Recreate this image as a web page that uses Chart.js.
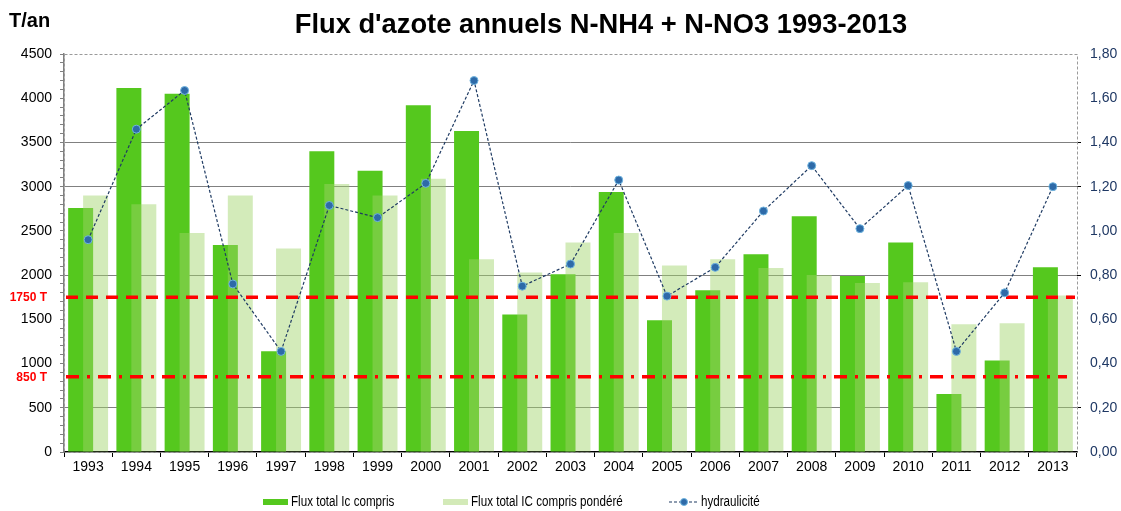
<!DOCTYPE html>
<html>
<head>
<meta charset="utf-8">
<title>Flux d'azote annuels</title>
<script src="https://cdn.jsdelivr.net/npm/chart.js@4.4.1/dist/chart.umd.min.js"></script>
<style>
  html, body { margin: 0; padding: 0; background: #fff; }
  #wrap { position: relative; width: 1121px; height: 511px; }
</style>
</head>
<body>
<div id="wrap"><canvas id="fluxChart"></canvas></div>
<script>
// Flux annuels (T/an) et hydraulicité, 1993-2013
const years = ['1993', '1994', '1995', '1996', '1997', '1998', '1999', '2000', '2001', '2002', '2003',
               '2004', '2005', '2006', '2007', '2008', '2009', '2010', '2011', '2012', '2013'];
const fluxTotal = [2760, 4115, 4050, 2340, 1140, 3400, 3180, 3920, 3630, 1555, 2010,
                   2940, 1490, 1830, 2235, 2665, 1990, 2370, 655, 1035, 2090];
const fluxPondere = [2900, 2800, 2475, 2900, 2300, 3030, 2900, 3090, 2180, 2030, 2370,
                     2475, 2110, 2180, 2080, 2000, 1910, 1920, 1445, 1455, 1770];
const hydraulicite = [0.96, 1.46, 1.635, 0.76, 0.455, 1.115, 1.06, 1.215, 1.68, 0.75, 0.85,
                      1.23, 0.705, 0.835, 1.09, 1.295, 1.01, 1.205, 0.455, 0.72, 1.20];
const seuils = [1750, 850];
const seuilLabels = ['1750 T', '850 T'];
const majorGrid = [500, 2000, 3000, 3500];

const GREEN = '#55c81e';
const GREEN_LIGHT = 'rgba(160, 212, 104, 0.46)';
const LINE_BLUE = '#1f3b63';

// light bars sit on top of the dark ones, thresholds on top of both, curve above all
const layering = {
  id: 'layering',
  beforeDatasetsDraw(chart) {
    const {ctx, chartArea: a} = chart;
    ctx.save();
    ctx.strokeStyle = '#9a9a9a';
    ctx.lineWidth = 1;
    ctx.setLineDash([3, 2]);
    ctx.strokeRect(a.left + 0.5, a.top + 0.5, a.right - a.left, a.bottom - a.top);
    ctx.restore();
  },
  beforeDatasetDraw(chart, args) {
    if (args.index === 1) return false;
  },
  afterDatasetDraw(chart, args) {
    if (args.index !== 0) return;
    const {ctx, chartArea: a, scales} = chart;
    chart.getDatasetMeta(1).controller.draw();

    ctx.save();
    ctx.strokeStyle = '#ff0000';
    ctx.lineWidth = 3.5;
    seuils.forEach((s, i) => {
      const y = scales.y.getPixelForValue(s);
      ctx.setLineDash(i === 0 ? [12, 8] : [13, 8, 3, 8]);
      ctx.beginPath();
      ctx.moveTo(a.left + 2, y);
      ctx.lineTo(i === 0 ? a.right - 2 : a.right - 10, y);
      ctx.stroke();
    });
    ctx.restore();
  },
  afterDraw(chart) {
    const {ctx, scales} = chart;
    ctx.save();
    ctx.fillStyle = '#000';
    ctx.textBaseline = 'alphabetic';
    ctx.font = 'bold 27.3px "Liberation Sans", Arial, sans-serif';
    ctx.textAlign = 'center';
    ctx.fillText("Flux d'azote annuels N-NH4 + N-NO3 1993-2013", 601, 33);
    ctx.font = 'bold 20px "Liberation Sans", Arial, sans-serif';
    ctx.textAlign = 'left';
    ctx.fillText('T/an', 9, 27);

    ctx.fillStyle = '#ff0000';
    ctx.font = 'bold 12px "Liberation Sans", Arial, sans-serif';
    ctx.textAlign = 'right';
    seuils.forEach((s, i) => {
      ctx.fillText(seuilLabels[i], 47, scales.y.getPixelForValue(s) + 4);
    });

    // legend, narrow lettering
    const ds = chart.data.datasets;
    const legendY = 502;
    const itemX = [263, 443, 669];
    const squeeze = 0.83;
    ctx.font = '14px "Liberation Sans", Arial, sans-serif';
    ctx.textAlign = 'left';
    ctx.textBaseline = 'middle';
    const label = (text, x) => {
      ctx.save();
      ctx.translate(x, legendY);
      ctx.scale(squeeze, 1);
      ctx.fillStyle = '#000';
      ctx.fillText(text, 0, 0);
      ctx.restore();
    };
    ds.forEach((d, i) => {
      const x = itemX[i];
      if (d.type === 'line') {
        ctx.strokeStyle = d.borderColor;
        ctx.lineWidth = 1.2;
        ctx.setLineDash([3, 2]);
        ctx.beginPath();
        ctx.moveTo(x, legendY);
        ctx.lineTo(x + 29, legendY);
        ctx.stroke();
        ctx.setLineDash([]);
        ctx.beginPath();
        ctx.arc(x + 15, legendY, 3.5, 0, Math.PI * 2);
        ctx.fillStyle = d.pointBackgroundColor;
        ctx.fill();
        ctx.strokeStyle = d.pointBorderColor;
        ctx.lineWidth = 1;
        ctx.stroke();
        label(d.label, x + 32);
      } else {
        ctx.fillStyle = i === 1 ? '#d3eab8' : d.backgroundColor;
        ctx.fillRect(x, legendY - 3, 25, 6);
        label(d.label, x + 28);
      }
    });
    ctx.restore();
  }
};

new Chart(document.getElementById('fluxChart'), {
  type: 'bar',
  data: {
    labels: years,
    datasets: [
      {
        label: 'Flux total Ic compris',
        data: fluxTotal,
        backgroundColor: GREEN,
        categoryPercentage: 0.62,
        barPercentage: 1.67,
        yAxisID: 'y'
      },
      {
        label: 'Flux total IC compris pondéré',
        data: fluxPondere,
        backgroundColor: GREEN_LIGHT,
        categoryPercentage: 0.62,
        barPercentage: 1.67,
        yAxisID: 'y'
      },
      {
        type: 'line',
        label: 'hydraulicité',
        data: hydraulicite,
        yAxisID: 'y1',
        order: -1,
        borderColor: LINE_BLUE,
        borderWidth: 1.2,
        borderDash: [3, 2],
        pointRadius: 4,
        pointBackgroundColor: '#2e6aa8',
        pointBorderColor: '#6fb4df',
        pointBorderWidth: 1,
        tension: 0,
        clip: false
      }
    ]
  },
  options: {
    responsive: true,
    maintainAspectRatio: false,
    animation: false,
    layout: { padding: { top: 54, bottom: 29, left: 0, right: 0 } },
    plugins: {
      legend: { display: false },
      title: { display: false },
      tooltip: { enabled: false }
    },
    scales: {
      x: {
        grid: { offset: true, drawOnChartArea: false, tickColor: '#000', tickLength: 5 },
        border: { color: '#000', width: 1.5 },
        ticks: { color: '#000', font: { size: 14, family: '"Liberation Sans", Arial, sans-serif' },
                 padding: 2, maxRotation: 0, autoSkip: false },
        afterFit: s => { s.height = 30; }
      },
      y: {
        min: 0,
        max: 4500,
        ticks: {
          stepSize: 100,
          autoSkip: false,
          callback: v => (v % 500 === 0 ? v : ''),
          color: '#000',
          font: { size: 14, family: '"Liberation Sans", Arial, sans-serif' },
          padding: 8
        },
        grid: {
          color: c => (majorGrid.includes(c.tick.value) ? '#808080' : 'rgba(0,0,0,0)'),
          tickColor: '#808080',
          tickLength: 4
        },
        border: { color: '#808080', width: 1.5 },
        afterFit: s => { s.width = 64; }
      },
      y1: {
        position: 'right',
        min: 0,
        max: 1.8,
        ticks: {
          stepSize: 0.2,
          callback: v => v.toFixed(2).replace('.', ','),
          color: '#1f3864',
          font: { size: 14, family: '"Liberation Sans", Arial, sans-serif' },
          padding: 9
        },
        grid: {
          drawOnChartArea: false,
          tickLength: 4,
          tickColor: c => (majorGrid.includes(Math.round(c.tick.value * 2500)) ? '#000' : 'rgba(0,0,0,0)')
        },
        border: { display: false },
        afterFit: s => { s.width = 44; }
      }
    }
  },
  plugins: [layering]
});
</script>
</body>
</html>
